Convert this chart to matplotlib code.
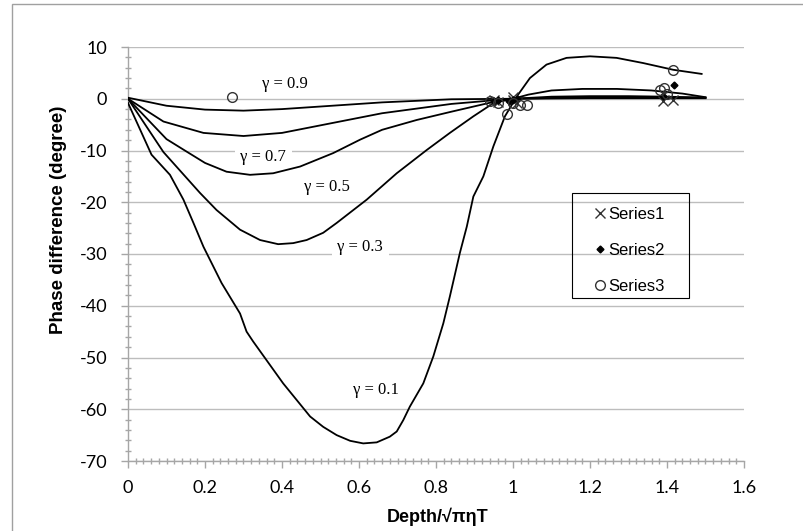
import numpy as np
import matplotlib.pyplot as plt
from matplotlib.patches import Rectangle

plt.rcParams["axes.unicode_minus"] = False

# curves (x = depth, y = phase difference)
x_g09 = [0, 0.1, 0.2, 0.3, 0.4, 0.53, 0.66, 0.84, 1.0, 1.2, 1.4, 1.5]
y_g09 = [0.2, -1.35, -2.1, -2.3, -2.0, -1.35, -0.7, -0.1, 0.0, 0.1, 0.1, 0.1]

x_g07 = [0, 0.092, 0.196, 0.3, 0.4, 0.53, 0.66, 0.84, 0.95, 1.0, 1.2, 1.4, 1.5]
y_g07 = [0, -4.4, -6.6, -7.2, -6.6, -4.7, -2.8, -1.0, -0.3, 0, 0.3, 0.3, 0.2]

x_g05 = [0, 0.1, 0.152, 0.2, 0.256, 0.317, 0.377, 0.447, 0.533, 0.603, 0.66, 0.75, 0.84,
         0.95, 1.0, 1.1, 1.2, 1.3, 1.4, 1.5]
y_g05 = [0, -7.8, -10.2, -12.4, -14.1, -14.7, -14.4, -13.1, -10.5, -7.9, -6.0, -4.1, -2.5,
         -0.6, 0, 0.4, 0.5, 0.5, 0.4, 0.2]

x_g03 = [0, 0.092, 0.187, 0.23, 0.291, 0.343, 0.39, 0.429, 0.464, 0.507, 0.542, 0.62, 0.698,
         0.776, 0.836, 0.897, 0.95, 1.0, 1.04, 1.1, 1.18, 1.27, 1.36, 1.44, 1.5]
y_g03 = [0, -10.3, -18.2, -21.5, -25.3, -27.3, -28.1, -27.9, -27.3, -25.9, -24.0, -19.5, -14.4,
         -9.9, -6.6, -3.4, -0.8, 0, 0.8, 1.6, 1.9, 1.9, 1.6, 1.0, 0.3]

x_g01 = [0, 0.061, 0.109, 0.144, 0.17, 0.196, 0.243, 0.291, 0.308, 0.325, 0.403, 0.438, 0.473,
         0.507, 0.542, 0.577, 0.611, 0.646, 0.68, 0.698, 0.715, 0.732, 0.767, 0.793, 0.819,
         0.836, 0.862, 0.88, 0.897, 0.923, 0.949, 0.979, 1.01, 1.044, 1.087, 1.139, 1.2,
         1.269, 1.338, 1.416, 1.49]
y_g01 = [-0.8, -10.8, -14.7, -19.5, -24.0, -28.6, -35.6, -41.5, -45.0, -46.9, -55.0, -58.2, -61.4,
         -63.4, -65.0, -66.1, -66.6, -66.4, -65.3, -64.3, -62.1, -59.5, -55.0, -49.8, -43.4,
         -38.2, -29.8, -24.7, -18.9, -15.0, -9.2, -3.4, 0.45, 4.0, 6.6, 7.9, 8.2,
         7.9, 6.9, 5.6, 4.8]

# measured points
s1_x = [0.95, 0.96, 1.0, 1.0, 1.01, 1.389, 1.416]
s1_y = [-0.3, -0.6, -0.2, 0.3, -0.8, -0.5, -0.2]
s2_x = [0.95, 0.96, 0.99, 1.0, 1.01, 1.39, 1.418]
s2_y = [-0.5, -0.3, -0.4, -0.2, 0.0, 0.5, 2.7]
s3_x = [0.269, 0.94, 0.96, 0.984, 1.0, 1.018, 1.037, 1.383, 1.392, 1.40, 1.416]
s3_y = [0.3, -0.5, -0.8, -3.0, -0.8, -1.2, -1.2, 1.7, 2.1, 1.0, 5.6]

gamma_labels = ["γ = 0.9", "γ = 0.7", "γ = 0.5", "γ = 0.3", "γ = 0.1"]
label_x = [0.408, 0.351, 0.516, 0.603, 0.644]
label_y = [2.9, -11.2, -17.0, -28.7, -56.3]

fig = plt.figure(figsize=(8.04, 5.31), dpi=100)
ax = fig.add_axes([128/804, 1-461/531, 616/804, 414/531])

for xs, ys in [(x_g09, y_g09), (x_g07, y_g07), (x_g05, y_g05), (x_g03, y_g03), (x_g01, y_g01)]:
    ax.plot(xs, ys, color="black", lw=1.3, zorder=3, solid_joinstyle="round")

ax.plot(s1_x, s1_y, ls="none", marker="x", ms=7, mec="#333333", mew=1, label="Series1", zorder=4)
ax.plot(s2_x, s2_y, ls="none", marker="D", ms=3.5, color="black", label="Series2", zorder=4)
ax.plot(s3_x, s3_y, ls="none", marker="o", ms=7, mfc="none", mec="#333333", mew=1, label="Series3", zorder=4)

for t, lx, ly in zip(gamma_labels, label_x, label_y):
    ax.text(lx, ly, t, family="Liberation Serif", fontsize=12, ha="center", va="center",
            bbox=dict(facecolor="white", edgecolor="none", pad=4), zorder=2)

ax.set_xlim(0, 1.6)
ax.set_ylim(-70, 10)
ax.set_xticks(np.arange(0, 1.61, 0.2))
ax.set_xticklabels(["0", "0.2", "0.4", "0.6", "0.8", "1", "1.2", "1.4", "1.6"])
ax.set_yticks(np.arange(-70, 11, 10))
ax.set_xticks(np.arange(0, 1.601, 0.02), minor=True)
ax.set_yticks(np.arange(-70, 10.1, 2), minor=True)
ax.grid(axis="y", which="major", color="#BDBDBD", lw=1)
ax.set_axisbelow(True)

for s in ["top", "right"]:
    ax.spines[s].set_visible(False)
for s in ["left", "bottom"]:
    ax.spines[s].set_color("#A6A6A6")
    ax.spines[s].set_linewidth(1)

ax.tick_params(which="major", direction="out", length=5, color="#A6A6A6", width=1, labelsize=13)
ax.tick_params(which="minor", direction="inout", length=5, color="#A6A6A6", width=1)
ax.tick_params(axis="x", which="major", pad=9)
ax.tick_params(axis="y", which="major", pad=10)
for lab in ax.get_xticklabels() + ax.get_yticklabels():
    lab.set_family("Lato")

ax.set_xlabel("Depth/√πηT", family=["Liberation Sans", "DejaVu Sans"], fontsize=13, fontweight="bold")
ax.set_ylabel("Phase difference (degree)", family=["Liberation Sans", "DejaVu Sans"], fontsize=13.5, fontweight="bold")
ax.xaxis.set_label_coords(0.503, -0.113)
ax.yaxis.set_label_coords(-0.099, 0.582)

leg = ax.legend(loc="upper left", bbox_to_anchor=(0.7553, 0.6145), borderaxespad=0, borderpad=0,
                prop={"family": "Liberation Sans", "size": 12}, frameon=False,
                handlelength=0.8, handletextpad=0.1, labelspacing=1.26)
ax.add_patch(Rectangle((0.7203, 0.3944), 0.9112 - 0.7203, 0.648 - 0.3944, transform=ax.transAxes,
                       fill=False, edgecolor="black", lw=0.8, zorder=5))

fig.add_artist(Rectangle((12/804, -0.05), 1, 1.05 - 4/531, transform=fig.transFigure,
                         fill=False, edgecolor="#A0A0A0", lw=1))

fig.savefig("out.png", dpi=100)
